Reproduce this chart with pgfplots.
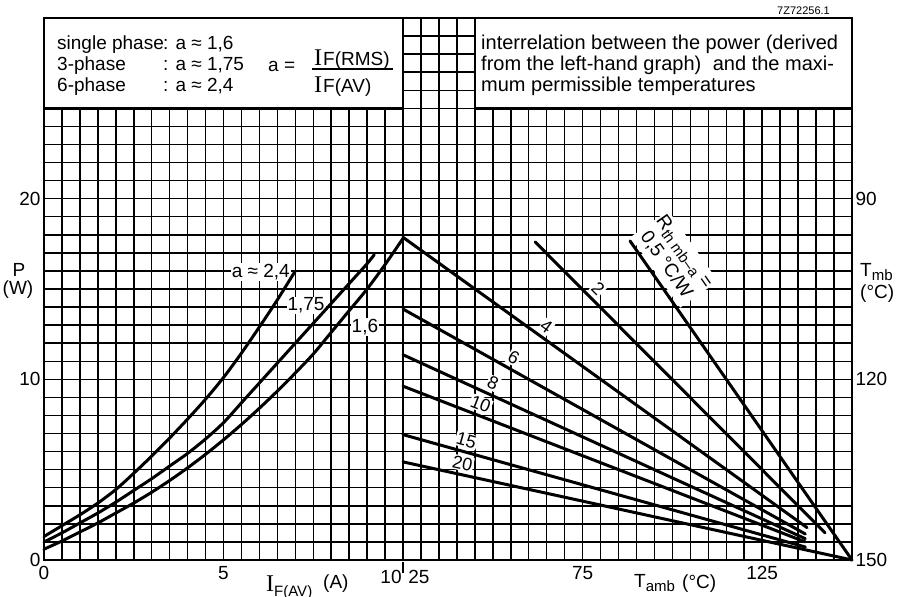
\documentclass[border=0pt]{standalone}
\usepackage{fontspec}
\setmainfont{Liberation Sans}
\newfontfamily\seriffont{Liberation Serif}
\usepackage{pgfplots}
\pgfplotsset{compat=1.18}
\newcommand{\fs}[1]{\fontsize{#1}{#1}\selectfont}
\newcommand{\Icap}{{\seriffont\fontsize{24}{24}\selectfont I}}
\tikzset{
  curve/.style={line width=3pt, black, smooth, line cap=round},
  rline/.style={line width=3pt, black, line cap=round},
  rlab/.style={fill=white, inner sep=1pt, outer sep=4pt, anchor=south, font=\fs{18}},
  clab/.style={fill=white, inner sep=1pt, font=\fs{19}},
}
\begin{document}
\begin{tikzpicture}[x=1pt,y=1pt]
\useasboundingbox (0,0) rectangle (898,597);
\pgfplotsset{
  chartaxis/.style={
    scale only axis, anchor=south west, height=542pt,
    ymin=0, ymax=30,
    axis line style={line width=2.4pt},
    tick style={draw=none},
    grid=major,
    major grid style={line width=1.5pt, black},
    ytick={0,1,...,30},
    tick label style={font=\fs{19}},
    xticklabel style={yshift=-3pt},
    /pgf/number format/assume math mode=true,
    clip=false,
  },
}
% ---------------- left graph: P versus I_F(AV)
\begin{axis}[chartaxis, at={(44pt,37pt)}, width=359pt, xmin=0, xmax=10,
  xtick={0,0.5,...,10},
  xticklabels={0,,,,,,,,,,5,,,,,,,,,,},
  yticklabels={0,,,,,,,,,,10,,,,,,,,,,20,,,,,,,,,,}]
\node[clab, anchor=east] at (axis cs:6.88,15.95) {a ≈ 2,4};
\node[clab] at (axis cs:7.3,14.1) {1,75};
\node[clab] at (axis cs:8.94,12.9) {1,6};
% a = 2.4
\addplot[curve] coordinates {(0,1.3)(0.5,1.9)(1,2.5)(1.5,3.15)(2,3.9)(2.5,4.8)(3,5.75)(3.5,6.75)(4,7.8)(4.5,8.9)(5,10.1)(5.5,11.45)(6,12.9)(6.5,14.4)(7,16.0)};
% a = 1.75
\addplot[curve] coordinates {(0,1.0)(0.5,1.5)(1,2.05)(1.5,2.6)(2,3.2)(2.5,3.85)(3,4.5)(3.5,5.2)(4,5.9)(4.5,6.7)(5,7.6)(5.5,8.7)(6,9.8)(6.5,10.9)(7,12.0)(7.5,13.1)(8,14.2)(8.5,15.3)(9,16.4)(9.2,16.9)};
% a = 1.6
\addplot[curve] coordinates {(0,0.6)(0.5,1.05)(1,1.55)(1.5,2.05)(2,2.6)(2.5,3.15)(3,3.75)(3.5,4.4)(4,5.1)(4.5,5.85)(5,6.65)(5.5,7.5)(6,8.4)(6.5,9.35)(7,10.35)(7.5,11.4)(8,12.6)(8.5,13.8)(9,15.0)(9.5,16.35)(10,17.8)};
\filldraw[fill=white, draw=black, line width=2.4pt] (axis cs:0,25) rectangle (axis cs:10,30);
\end{axis}
% ---------------- right graph: P versus T_amb
\begin{axis}[chartaxis, at={(403pt,37pt)}, width=449pt, xmin=25, xmax=150,
  xtick={25,30,...,150},
  xticklabels={,,,,,,,,,,75,,,,,,,,,,125,,,,,},
  yticklabel pos=right,
  yticklabels={150,,,,,,,,,,120,,,,,,,,,,90,,,,,,,,,,}]
\node[rlab, rotate=-45] at (axis cs:77.1,14.58) {2};
\node[rlab, rotate=-35.7] at (axis cs:63.1,12.41) {4};
\node[rlab, rotate=-29.2] at (axis cs:54.3,10.63) {6};
\node[rlab, rotate=-24.6] at (axis cs:48.75,9.2) {8};
\node[rlab, rotate=-21.1] at (axis cs:45.5,8.04) {10};
\node[rlab, rotate=-15.6] at (axis cs:41.8,6.01) {15};
\node[rlab, rotate=-12.3] at (axis cs:40.9,4.74) {20};
\node[rlab, rotate=-55, outer sep=3pt] at (axis cs:94.6,15.83)
  {\fontsize{19}{22}\selectfont\begin{tabular}{@{}c@{}}R\raisebox{-0.35ex}{\fs{15}th mb–a} =\\0,5 °C/W\end{tabular}};
\addplot[rline] coordinates {(88.2,17.66)(150,0)};     % 0.5
\addplot[rline] coordinates {(61.8,17.6)(142.5,1.5)};  % 2
\addplot[rline] coordinates {(25,17.86)(137.5,1.79)};  % 4
\addplot[rline] coordinates {(25,13.89)(137,1.44)};    % 6
\addplot[rline] coordinates {(25,11.36)(137,1.18)};    % 8
\addplot[rline] coordinates {(25,9.62)(137,1.0)};      % 10
\addplot[rline] coordinates {(25,6.94)(137,0.72)};     % 15
\addplot[rline] coordinates {(25,5.43)(150,0)};        % 20
\filldraw[fill=white, draw=black, line width=2.4pt] (axis cs:45,25) rectangle (axis cs:150,30);
\end{axis}
% ---------------- texts
\draw[line width=1.5pt] (403,35) -- (403,24);
\node[anchor=base, font=\fs{19}, inner sep=0pt] at (391,13) {10};
\node[anchor=base, font=\fs{19}, inner sep=0pt] at (419,13) {25};
% box texts
\begin{scope}[every node/.style={anchor=base west, inner sep=0pt, font=\fs{19}}]
\node at (57,547) {single phase};
\node at (57,526) {3-phase};
\node at (57,505.5) {6-phase};
\node at (163,547) {: a ≈ 1,6};
\node at (163,526) {: a ≈ 1,75};
\node at (163,505.5) {: a ≈ 2,4};
\node at (268,525.5) {a =};
\node at (314,531) {\Icap\kern1pt F(RMS)};
\node at (314,504) {\Icap\kern1pt F(AV)};
\end{scope}
\draw[line width=1.5pt] (312,528) -- (393,528);
\begin{scope}[every node/.style={anchor=base west, inner sep=0pt, font=\fs{20}}]
\node at (481,547) {interrelation between the power (derived};
\node at (481,526) {from the left-hand graph)\hspace{0.3em} and the maxi-};
\node at (481,505.5) {mum permissible temperatures};
\end{scope}
\node[anchor=base east, inner sep=0pt, font=\fs{11}] at (830,582) {7Z72256.1};
% axis titles
\node[anchor=base, inner sep=0pt, font=\fs{19}] at (19,320) {P};
\node[anchor=base, inner sep=0pt, font=\fs{19}] at (18,302) {(W)};
\node[anchor=base west, inner sep=0pt, font=\fs{19}] at (860,320) {T\raisebox{-0.35ex}{\fs{15}mb}};
\node[anchor=base west, inner sep=0pt, font=\fs{19}] at (860,298) {(°C)};
\node[anchor=base west, inner sep=0pt, font=\fs{19}] at (266,5) {\Icap\raisebox{-0.45ex}{\fs{15}F(AV)}};
\node[anchor=base west, inner sep=0pt, font=\fs{19}] at (323,8) {(A)};
\node[anchor=base west, inner sep=0pt, font=\fs{19}] at (634,9) {T\raisebox{-0.35ex}{\fs{15}amb}};
\node[anchor=base west, inner sep=0pt, font=\fs{19}] at (682,8) {(°C)};
\end{tikzpicture}
\end{document}
